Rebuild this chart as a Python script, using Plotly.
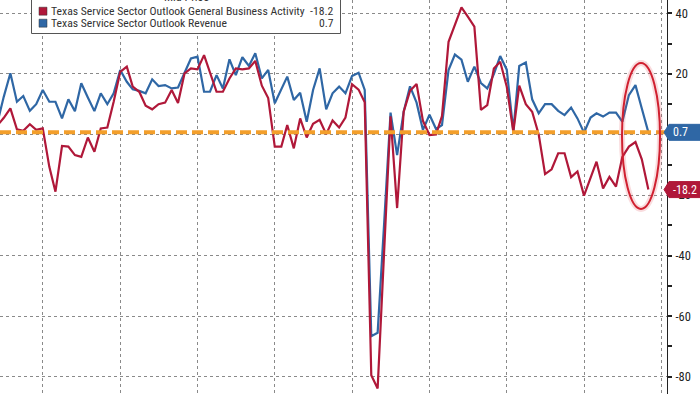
import pandas as pd
import plotly.graph_objects as go

# ---------------- data (monthly, May 2015 .. Oct 2023) ----------------
START_MONTH = "2015-05-01"
business_activity = [
    # 2015 May-Dec
    3.0, 5.5, 8.6, 1.7, 1.2, 3.4, 1.5, 2.0,
    # 2016
    -10.7, -18.9, -3.8, -4.0, -6.8, -7.4, -1.0, -5.7, 2.0, 2.3, 10.8, 20.7,
    # 2017
    22.4, 15.8, 14.1, 9.5, 8.3, 10.0, 10.5, 14.7, 10.4, 20.2, 21.8, 21.5,
    # 2018
    26.2, 20.7, 14.1, 14.1, 18.5, 21.8, 21.5, 21.8, 24.3, 16.1, 12.0, -4.0,
    # 2019
    -4.0, 3.1, -4.6, 5.3, -1.0, 3.5, 4.8, 0.1, 4.6, 2.3, 5.6, 16.6,
    # 2020
    14.8, 10.6, -79.5, -83.9, -39.0, 6.0, -24.3, 7.5, 14.4, 16.7, 4.5, -0.2,
    # 2021
    0.0, 6.1, 30.6, 36.1, 42.0, 38.9, 35.6, 8.1, 9.7, 21.8, 24.0, 15.8,
    # 2022
    0.9, 16.1, 10.0, 7.5, 0.0, -13.1, -11.5, -6.2, -6.2, -14.1, -12.2, -20.2,
    # 2023 Jan-Oct
    -14.5, -9.0, -17.8, -14.0, -17.2, -7.4, -4.0, -2.5, -8.2, -18.2,
]
revenue = [
    # 2015 May-Dec
    4.0, 12.5, 20.2, 10.8, 12.7, 7.8, 10.0, 14.7,
    # 2016
    10.8, 10.8, 5.3, 11.6, 7.7, 16.9, 12.2, 7.7, 13.6, 10.0, 13.6, 21.3,
    # 2017
    17.4, 14.9, 14.4, 13.6, 18.2, 16.0, 16.3, 15.2, 15.5, 20.7, 25.1, 25.7,
    # 2018
    14.1, 14.1, 19.6, 15.2, 24.8, 19.6, 25.5, 22.6, 26.8, 18.5, 21.3, 10.3,
    # 2019
    14.9, 19.1, 11.4, 13.8, 4.2, 14.7, 21.8, 8.3, 13.6, 15.8, 13.6, 19.3,
    # 2020
    20.4, 14.7, -66.6, -65.5, -29.0, 7.2, -6.8, 7.5, 15.9, 10.5, 1.5, 6.5,
    # 2021
    1.8, 3.1, 21.3, 26.4, 24.7, 17.4, 22.4, 17.0, 15.2, 19.9, 25.9, 21.4,
    # 2022
    1.2, 22.6, 23.8, 11.6, 7.0, 10.0, 10.0, 7.8, 6.4, 8.9, 5.3, 0.6,
    # 2023 Jan-Oct
    5.6, 7.0, 5.9, 7.2, 7.2, 4.2, 13.0, 16.3, 8.6, 0.7,
]
series_names = [
    "Texas Service Sector Outlook General Business Activity",
    "Texas Service Sector Outlook Revenue",
]
legend_title = "Mid Price"
reference_level = 0.7
y_tick_values = [40, 20, 0, -20, -40, -60, -80]
y_tick_labels = ["40", "20", "0", "-20", "-40", "-60", "-80"]

# ---------------- styling ----------------
RED = "#b01839"
BLUE = "#2f67a5"
ORANGE = "#f39f2b"
FONT = "Liberation Sans Narrow, Roboto Condensed, DejaVu Sans Condensed, Arial Narrow, Roboto, sans-serif"

W, H = 700, 394
PLOT_W = 667  # px width of plot area (right axis at x=667)
X_RANGE = ["2015-06-12", "2024-01-27"]
Y_RANGE = [-85.7, 44.4]

dates = pd.date_range(START_MONTH, periods=len(revenue), freq="MS") + pd.offsets.MonthEnd(0)
dates = [d.strftime("%Y-%m-%d") for d in dates]


def px_x(p):
    return p / PLOT_W


def px_y(p):
    return 1 - p / H


def val_per_px():
    return (Y_RANGE[1] - Y_RANGE[0]) / H


fig = go.Figure()
fig.add_trace(go.Scatter(x=dates, y=revenue, mode="lines", name=series_names[1],
                         line=dict(color=BLUE, width=2.2), showlegend=False))
fig.add_trace(go.Scatter(x=dates, y=business_activity, mode="lines", name=series_names[0],
                         line=dict(color=RED, width=2.2), showlegend=False))

shapes = []
# orange dashed reference
shapes.append(dict(type="line", xref="paper", yref="y", x0=0, x1=1,
                   y0=reference_level, y1=reference_level,
                   line=dict(color=ORANGE, width=4, dash="11px,5px"), layer="above"))
# red ellipse highlight (glow + line)
ex0, ex1, ey0, ey1 = px_x(622), px_x(660), px_y(209), px_y(63)
shapes.append(dict(type="circle", xref="paper", yref="paper", x0=ex0, x1=ex1, y0=ey0, y1=ey1,
                   line=dict(color="rgba(220,60,70,0.18)", width=6), layer="above"))
shapes.append(dict(type="circle", xref="paper", yref="paper", x0=ex0, x1=ex1, y0=ey0, y1=ey1,
                   line=dict(color="#d02030", width=2), layer="above"))

# last-value tags on the right axis
k = val_per_px()
annotations = []
for val, col in [(revenue[-1], BLUE), (business_activity[-1], RED)]:
    half = 8 * k
    xa, xb, xc = px_x(664), px_x(669), px_x(701)
    path = (f"M {xa},{val} L {xb},{val + half} L {xc},{val + half} "
            f"L {xc},{val - half} L {xb},{val - half} Z")
    shapes.append(dict(type="path", xref="paper", yref="y", path=path,
                       fillcolor=col, line=dict(color=col, width=1), layer="above"))
    annotations.append(dict(xref="paper", yref="y", x=px_x(671), y=val, xanchor="left",
                            yanchor="middle", text=f"{val:.1f}", showarrow=False,
                            font=dict(family=FONT, size=12, color="white")))

# custom legend box
shapes.append(dict(type="rect", xref="paper", yref="paper",
                   x0=px_x(31.5), x1=px_x(340.5), y0=px_y(33.5), y1=px_y(-12),
                   fillcolor="white", line=dict(color="#555555", width=1), layer="above"))
annotations.append(dict(xref="paper", yref="paper", x=px_x(186), y=px_y(-3),
                        xanchor="center", yanchor="middle", text=legend_title,
                        showarrow=False, font=dict(family=FONT, size=12, color="#333")))
rows = [(series_names[0], business_activity[-1], RED, 11.2),
        (series_names[1], revenue[-1], BLUE, 23.2)]
for name, val, col, cy in rows:
    shapes.append(dict(type="rect", xref="paper", yref="paper",
                       x0=px_x(39), x1=px_x(47), y0=px_y(cy + 4), y1=px_y(cy - 4),
                       fillcolor=col, line=dict(color="#333", width=0.5), layer="above"))
    annotations.append(dict(xref="paper", yref="paper", x=px_x(49), y=px_y(cy),
                            xanchor="left", yanchor="middle", text=name, showarrow=False,
                            font=dict(family=FONT, size=11.7, color="#333")))
    annotations.append(dict(xref="paper", yref="paper", x=px_x(336), y=px_y(cy),
                            xanchor="right", yanchor="middle", text=f"{val:.1f}", showarrow=False,
                            font=dict(family=FONT, size=11.7, color="#333")))

fig.update_layout(
    width=W, height=H,
    margin=dict(l=0, r=W - PLOT_W, t=0, b=0, autoexpand=False),
    paper_bgcolor="white", plot_bgcolor="white",
    shapes=shapes, annotations=annotations,
    font=dict(family=FONT, size=12, color="#222"),
    xaxis=dict(type="date", range=X_RANGE, showticklabels=False, ticks="",
               showgrid=True, gridcolor="#8a8a8a", griddash="dot", gridwidth=1,
               tick0="2016-01-01", dtick="M12", zeroline=False, showline=False,
               automargin=False),
    yaxis=dict(side="right", range=Y_RANGE, tickvals=y_tick_values, ticktext=y_tick_labels,
               ticks="outside", ticklen=4, tickwidth=2, tickcolor="#222",
               showline=True, linecolor="#222", linewidth=1, mirror=False,
               showgrid=True, gridcolor="#8a8a8a", griddash="dot", gridwidth=1,
               zeroline=False, automargin=False, ticklabelstandoff=1,
               tickfont=dict(family=FONT, size=12.5, color="#222"),
               minor=dict(dtick=10, tick0=0, ticks="outside", ticklen=4, tickcolor="#222", showgrid=False)),
)

fig.write_html(
    "out.html",
    config={"displayModeBar": False},
    post_script="document.body.style.margin='0px';document.body.style.padding='0px';document.body.style.overflow='hidden';",
)
